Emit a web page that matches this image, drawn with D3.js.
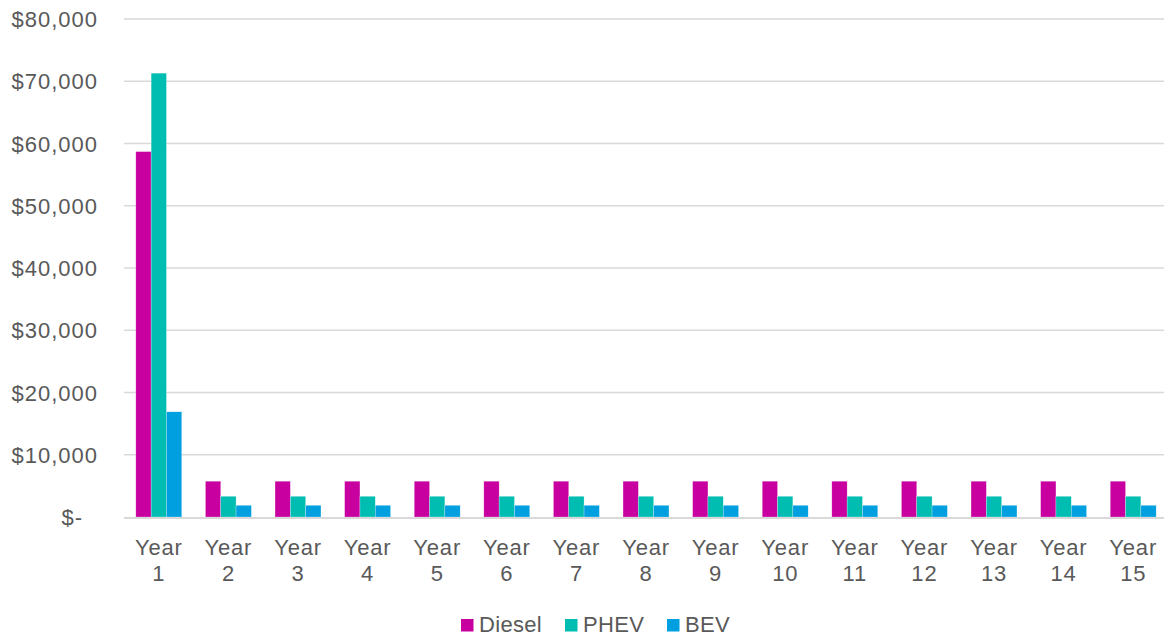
<!DOCTYPE html>
<html>
<head>
<meta charset="utf-8">
<script src="https://cdn.jsdelivr.net/npm/d3@7/dist/d3.min.js"></script>
<style>
  html, body { margin: 0; padding: 0; background: #ffffff; }
  svg { display: block; }
  text { font-family: "Liberation Sans", Arial, sans-serif; fill: #595959; }
</style>
</head>
<body>
<svg id="chart" width="1164" height="639"></svg>
<script>
// Annual cost per vehicle type, years 1-15
const categories = ["Year 1", "Year 2", "Year 3", "Year 4", "Year 5", "Year 6", "Year 7", "Year 8",
                    "Year 9", "Year 10", "Year 11", "Year 12", "Year 13", "Year 14", "Year 15"];
const seriesNames = ["Diesel", "PHEV", "BEV"];
const diesel = [58700, 5750, 5750, 5750, 5750, 5750, 5750, 5750, 5750, 5750, 5750, 5750, 5750, 5750, 5750];
const phev   = [71300, 3330, 3330, 3330, 3330, 3330, 3330, 3330, 3330, 3330, 3330, 3330, 3330, 3330, 3330];
const bev    = [16900, 1880, 1880, 1880, 1880, 1880, 1880, 1880, 1880, 1880, 1880, 1880, 1880, 1880, 1880];
const yTicks = [0, 10000, 20000, 30000, 40000, 50000, 60000, 70000, 80000];

const seriesColors = ["#C8009F", "#00BDB2", "#009FDF"];
const seriesValues = [diesel, phev, bev];

const svg = d3.select("#chart");
const plot = { left: 124, right: 1168, top: 19, bottom: 517 };

const x = d3.scaleBand()
  .domain(categories)
  .range([plot.left, plot.right])
  .paddingInner(0.34)
  .paddingOuter(0.17);

const xSub = d3.scaleBand()
  .domain(seriesNames)
  .range([0, x.bandwidth()])
  .padding(0);

const y = d3.scaleLinear()
  .domain([0, 80000])
  .range([plot.bottom, plot.top]);

// Horizontal gridlines
svg.append("g")
  .selectAll("line")
  .data(yTicks.filter(d => d !== 0))
  .join("line")
  .attr("x1", plot.left)
  .attr("x2", plot.right)
  .attr("y1", d => y(d))
  .attr("y2", d => y(d))
  .attr("stroke", "#D9D9D9")
  .attr("stroke-width", 1.5);

// Y axis labels (accounting style, zero shown as "$-")
const fmt = d3.format(",");
const yAxis = d3.axisLeft(y)
  .tickValues(yTicks)
  .tickSize(0)
  .tickPadding(0)
  .tickFormat(d => d === 0 ? "$-" : "$" + fmt(d));

const yg = svg.append("g")
  .attr("transform", `translate(98,0)`)
  .call(yAxis);
yg.select(".domain").remove();
yg.selectAll("text")
  .attr("font-size", "22px")
  .attr("letter-spacing", "1px")
  .attr("font-family", "Liberation Sans, Arial, sans-serif")
  .attr("fill", "#595959")
  .attr("dy", "0.35em")
  .attr("dx", d => d === 0 ? -15 : 0);

// Bars
const groups = svg.append("g")
  .selectAll("g")
  .data(categories)
  .join("g")
  .attr("transform", d => `translate(${x(d)},0)`);

groups.selectAll("rect")
  .data((c, i) => seriesNames.map((s, k) => ({ series: s, value: seriesValues[k][i], color: seriesColors[k] })))
  .join("rect")
  .attr("x", d => xSub(d.series))
  .attr("width", xSub.bandwidth())
  .attr("y", d => y(d.value))
  .attr("height", d => y(0) - y(d.value))
  .attr("fill", d => d.color)
  .attr("stroke", "#ffffff")
  .attr("stroke-opacity", 0.5)
  .attr("stroke-width", 0.5);

// Baseline
svg.append("line")
  .attr("x1", plot.left)
  .attr("x2", plot.right)
  .attr("y1", y(0) + 1)
  .attr("y2", y(0) + 1)
  .attr("stroke", "#D9D9D9")
  .attr("stroke-width", 2);

// X axis labels on two lines
const xLabels = svg.append("g")
  .selectAll("text")
  .data(categories)
  .join("text")
  .attr("x", d => x(d) + x.bandwidth() / 2)
  .attr("y", 555)
  .attr("text-anchor", "middle")
  .attr("font-size", "22px")
  .attr("letter-spacing", "0.8px");
xLabels.each(function(d) {
  const parts = d.split(" ");
  const t = d3.select(this);
  t.append("tspan").attr("x", x(d) + x.bandwidth() / 2).text(parts[0]);
  t.append("tspan").attr("x", x(d) + x.bandwidth() / 2).attr("dy", 26).text(parts[1]);
});

// Legend
const legendItems = [
  { name: seriesNames[0], color: seriesColors[0], x: 461 },
  { name: seriesNames[1], color: seriesColors[1], x: 565 },
  { name: seriesNames[2], color: seriesColors[2], x: 667 }
];
const legend = svg.append("g")
  .selectAll("g")
  .data(legendItems)
  .join("g")
  .attr("transform", d => `translate(${d.x},619)`);
legend.append("rect")
  .attr("width", 12.5)
  .attr("height", 12.5)
  .attr("fill", d => d.color);
legend.append("text")
  .attr("x", 18)
  .attr("y", 13)
  .attr("font-size", "22px")
  .attr("letter-spacing", "0.3px")
  .text(d => d.name);
</script>
</body>
</html>
